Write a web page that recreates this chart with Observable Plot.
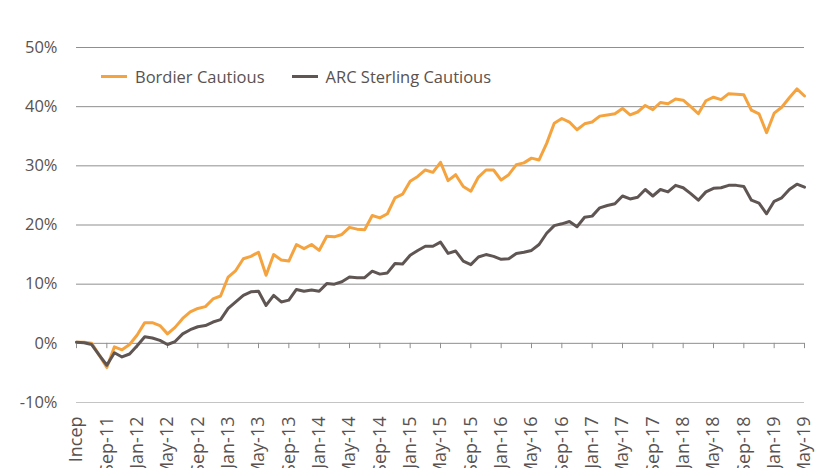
<!DOCTYPE html>
<html>
<head>
<meta charset="utf-8">
<script src="https://cdn.jsdelivr.net/npm/d3@7"></script>
<script src="https://cdn.jsdelivr.net/npm/@observablehq/plot@0.6"></script>
<style>
  html, body { margin: 0; padding: 0; background: #fff; }
  #wrap { position: relative; width: 821px; height: 468px; overflow: hidden; font-family: "Open Sans", sans-serif; }
  #legend { position: absolute; left: 101px; top: 65px; display: flex; align-items: center; font-size: 16.5px; color: #595250; white-space: nowrap; }
  .item { display: flex; align-items: center; }
  .sw { width: 26px; height: 3px; margin-right: 8px; }
</style>
</head>
<body>
<div id="wrap"><div id="legend"></div></div>
<script>
const seriesNames = ["Bordier Cautious", "ARC Sterling Cautious"];
const seriesColors = ["#f5a33f", "#5f5653"];

const tickLabels = ["Incep","Sep-11","Jan-12","May-12","Sep-12","Jan-13","May-13","Sep-13","Jan-14","May-14","Sep-14","Jan-15","May-15","Sep-15","Jan-16","May-16","Sep-16","Jan-17","May-17","Sep-17","Jan-18","May-18","Sep-18","Jan-19","May-19"];
const tickIdx = [0,4,8,12,16,20,24,28,32,36,40,44,48,52,56,60,64,68,72,76,80,84,88,92,96];
const yTicks = [-10, 0, 10, 20, 30, 40, 50];

const bordier = [0.2,0.2,0.0,-2.0,-4.1,-0.6,-1.1,-0.2,1.4,3.5,3.5,3.0,1.6,2.7,4.2,5.3,5.9,6.2,7.5,8.0,
  11.2,12.3,14.3,14.7,15.4,11.5,15.0,14.1,13.9,16.7,16.0,16.7,15.7,18.1,18.0,18.4,19.6,19.3,19.2,21.6,
  21.2,21.9,24.6,25.2,27.4,28.2,29.3,28.9,30.6,27.5,28.5,26.5,25.7,28.1,29.3,29.3,27.6,28.5,30.2,30.5,
  31.3,31.0,33.8,37.2,38.0,37.4,36.1,37.1,37.4,38.4,38.6,38.8,39.7,38.6,39.1,40.2,39.5,40.7,40.5,41.3,
  41.1,40.0,38.8,41.0,41.6,41.2,42.2,42.1,42.0,39.4,38.8,35.6,38.9,39.9,41.5,43.0,41.8];
const arc = [0.2,0.1,-0.2,-2.0,-3.7,-1.6,-2.3,-1.8,-0.4,1.1,0.9,0.5,-0.2,0.3,1.6,2.3,2.8,3.0,3.6,4.0,
  5.9,7.0,8.1,8.7,8.8,6.4,8.1,7.0,7.3,9.1,8.8,9.0,8.8,10.1,10.0,10.4,11.2,11.1,11.1,12.2,
  11.7,11.9,13.5,13.4,14.9,15.7,16.4,16.4,17.1,15.2,15.6,13.9,13.3,14.6,15.0,14.7,14.2,14.3,15.2,15.4,
  15.7,16.7,18.6,19.9,20.2,20.6,19.7,21.3,21.5,22.9,23.3,23.6,24.9,24.4,24.7,26.0,24.9,26.0,25.6,26.7,
  26.3,25.3,24.2,25.6,26.2,26.3,26.7,26.7,26.5,24.2,23.7,21.9,24.0,24.6,26.0,26.9,26.4];

const rows = [
  ...bordier.map((v, i) => ({i, v, s: seriesNames[0]})),
  ...arc.map((v, i) => ({i, v, s: seriesNames[1]}))
];

const chart = Plot.plot({
  width: 821,
  height: 468,
  marginLeft: 76,
  marginRight: 17,
  marginTop: 47,
  marginBottom: 66,
  style: {fontFamily: "'Open Sans', sans-serif", fontSize: "16.5px", color: "#595250", background: "white", overflow: "hidden"},
  x: {domain: [0, 96]},
  y: {domain: [-10, 50]},
  color: {domain: seriesNames, range: seriesColors},
  marks: [
    Plot.ruleY(yTicks.filter(d => d !== -10), {stroke: "#8f8f8f", strokeWidth: 1}),
    Plot.ruleY(yTicks.filter(d => d === -10), {stroke: "#c4c4c4", strokeWidth: 1}),
    Plot.ruleX(tickIdx, {y1: 0, y2: -0.9, stroke: "#8f8f8f"}),
    Plot.axisY({ticks: yTicks, tickSize: 0, tickPadding: 19, tickFormat: d => d + "%", label: null}),
    Plot.axisX({ticks: tickIdx, tickSize: 0, tickRotate: -90, tickPadding: 14, fontSize: 18, tickFormat: i => tickLabels[i / 4], label: null}),
    Plot.line(rows, {x: "i", y: "v", z: "s", stroke: "s", strokeWidth: 3, strokeLinejoin: "round"})
  ]
});

const wrap = document.getElementById("wrap");
wrap.insertBefore(chart, wrap.firstChild);

const legend = document.getElementById("legend");
seriesNames.forEach((name, k) => {
  const it = document.createElement("div");
  it.className = "item";
  if (k > 0) it.style.marginLeft = "27px";
  const sw = document.createElement("div");
  sw.className = "sw";
  sw.style.background = seriesColors[k];
  const tx = document.createElement("span");
  tx.textContent = name;
  it.appendChild(sw);
  it.appendChild(tx);
  legend.appendChild(it);
});
</script>
</body>
</html>
